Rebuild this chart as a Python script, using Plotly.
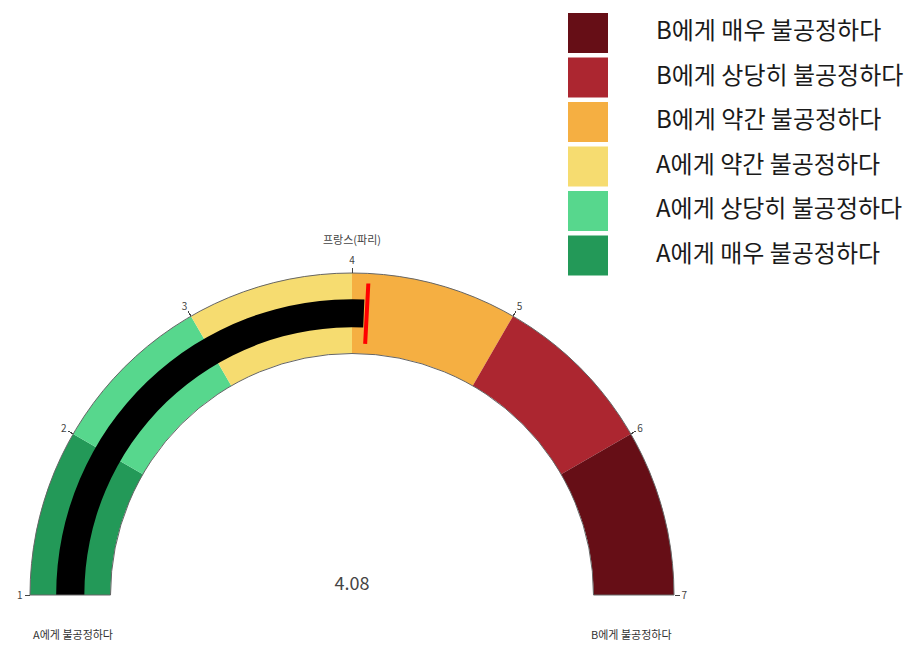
import plotly.graph_objects as go

# ---------------- data ----------------
categories = [
    "A에게 매우 불공정하다",
    "A에게 상당히 불공정하다",
    "A에게 약간 불공정하다",
    "B에게 약간 불공정하다",
    "B에게 상당히 불공정하다",
    "B에게 매우 불공정하다",
]
step_edges = [1, 2, 3, 4, 5, 6, 7]
step_colors = ["#239958", "#57D78D", "#F6DC70", "#F5AF42", "#AC2630", "#660E16"]
tick_vals = [1, 2, 3, 4, 5, 6, 7]
gauge_value = 4.08
threshold_value = 4.1
gauge_title = "프랑스(파리)"
end_labels = ["A에게 불공정하다", "B에게 불공정하다"]

FONT = "Noto Sans CJK KR"
W, H = 922, 655
OFF = 8  # page body margin


def px_x(p):
    return (p - OFF) / W


def px_y(p):
    return 1 - (p - OFF) / H


fig = go.Figure()

# ---------------- gauge ----------------
steps = [
    dict(range=[step_edges[i], step_edges[i + 1]], color=step_colors[i])
    for i in range(len(step_colors))
]

fig.add_trace(go.Indicator(
    mode="gauge+number",
    value=gauge_value,
    number=dict(font=dict(size=18, color="#444", family=FONT), valueformat=".2f"),
    title=dict(text=gauge_title, font=dict(size=11, color="#444", family=FONT)),
    domain=dict(x=[px_x(30), px_x(674)], y=[px_y(595), px_y(273)]),
    gauge=dict(
        shape="angular",
        axis=dict(range=[step_edges[0], step_edges[-1]], tickvals=tick_vals,
                  tickfont=dict(size=10, color="#444", family=FONT),
                  tickcolor="#444", ticklen=5, tickwidth=1),
        bar=dict(color="black", thickness=0.35),
        bgcolor="white",
        bordercolor="#666",
        borderwidth=1,
        steps=steps,
        threshold=dict(line=dict(color="red", width=4), thickness=0.75,
                       value=threshold_value),
    ),
))

# ---------------- custom legend (hidden axes) ----------------
legend_cats = list(reversed(categories))
legend_cols = list(reversed(step_colors))
rows = list(range(len(legend_cats)))

fig.add_trace(go.Scatter(
    x=[28] * len(rows), y=rows, mode="markers",
    marker=dict(symbol="square", size=40, color=legend_cols,
                line=dict(width=0)),
    hoverinfo="skip", showlegend=False, xaxis="x", yaxis="y",
))
fig.add_trace(go.Scatter(
    x=[96] * len(rows), y=rows, mode="text", text=legend_cats,
    textposition="middle right",
    textfont=dict(size=24, color="#1a1a1a", family=FONT),
    hoverinfo="skip", showlegend=False, xaxis="x", yaxis="y",
))

# ---------------- end labels ----------------
annotations = [
    dict(text=end_labels[0], x=px_x(31), y=px_y(634), xref="paper", yref="paper",
         xanchor="left", yanchor="middle", showarrow=False,
         font=dict(size=11, color="#333", family=FONT)),
    dict(text=end_labels[1], x=px_x(674), y=px_y(634), xref="paper", yref="paper",
         xanchor="right", yanchor="middle", showarrow=False,
         font=dict(size=11, color="#333", family=FONT)),
]

fig.update_layout(
    width=W, height=H,
    margin=dict(l=0, r=0, t=0, b=0),
    paper_bgcolor="white", plot_bgcolor="rgba(0,0,0,0)",
    font=dict(family=FONT, color="#444"),
    showlegend=False,
    annotations=annotations,
    xaxis=dict(domain=[px_x(560), 1], range=[0, W - (560 - OFF)],
               visible=False, fixedrange=True),
    yaxis=dict(domain=[px_y(280), 1],
               range=[(280 - 33) / 44.5, (OFF - 33) / 44.5],
               visible=False, fixedrange=True),
)

fig.write_html("out.html")
